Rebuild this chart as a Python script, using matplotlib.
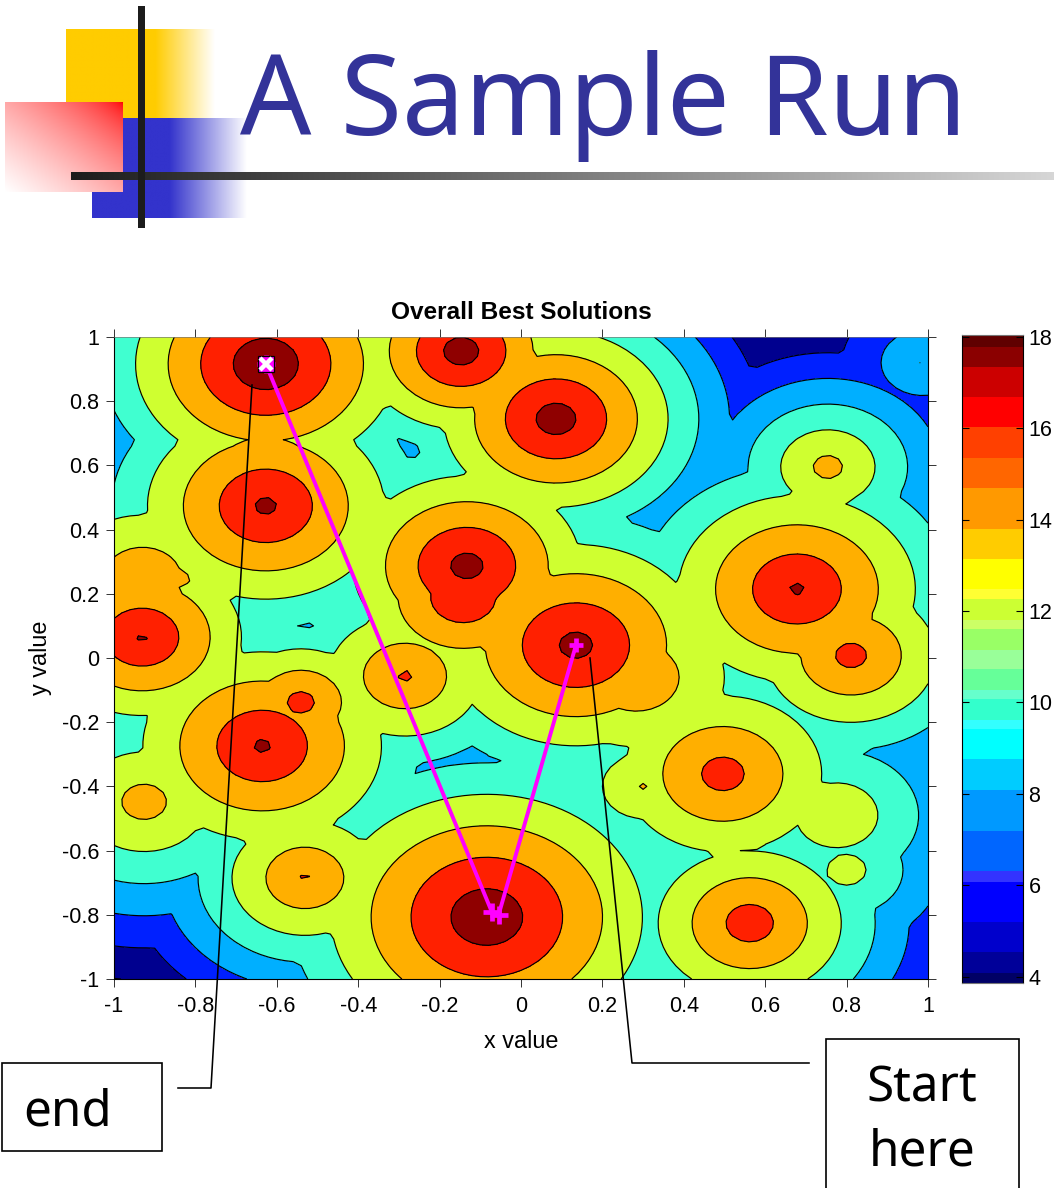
import numpy as np
import matplotlib
matplotlib.use("Agg")
import matplotlib.pyplot as plt
from matplotlib.colors import ListedColormap, BoundaryNorm
from matplotlib.patches import Rectangle

W, H = 1054, 1188

# --- data ---
# peaks of the surface: x, y, height, fall-off per unit distance
peak_x = [-0.627, -0.147, 0.086, -0.627, -0.133, -0.142, 0.135, 0.283, 0.678, 0.811, 0.754,
          -0.931, -0.930, -0.833, -0.285, -0.636, -0.541, -0.926, -0.531, 0.496, 0.300,
          -0.084, 0.562, 0.776, 0.800, 0.987]
peak_y = [0.916, 0.956, 0.745, 0.474, 0.287, 0.190, 0.040, -0.060, 0.215, 0.008, 0.595,
          0.065, 0.250, 0.246, -0.056, -0.274, -0.138, -0.448, -0.668, -0.361, -0.400,
          -0.807, -0.826, -0.490, -0.660, 0.920]
peak_y[18] = -0.685
peak_h = [20.0, 19.3, 19.3, 18.6, 19.0, 18.0, 18.9, 15.9, 18.4, 16.9, 14.9,
          18.35, 15.9, 14.5, 16.4, 18.45, 17.0, 15.1, 16.3, 17.1, 14.2,
          19.8, 17.4, 14.02, 13.05, 10.15]
peak_s = [25, 30, 26.5, 22.7, 25, 25, 22, 18, 22, 23.5, 25,
          26, 20, 25, 23.5, 22, 30, 20, 24, 21, 22,
          20.4, 24, 20, 22, 21]

contour_levels = [4, 6, 8, 10, 12, 14, 16, 18]
band_edges = [-100, 6, 8, 10, 12, 14, 16, 18, 100]
band_colors = ["#00008F", "#0020FF", "#00AFFF", "#40FFD0", "#CFFF30", "#FFAF00", "#FF2000", "#8F0000"]

path_x = [-0.627, -0.072, -0.055, 0.135]
path_y = [0.916, -0.790, -0.800, 0.040]

cbar_edges = [3.86, 4.08, 4.54, 5.20, 6.07, 6.31, 7.19, 8.09, 8.77, 9.42, 9.62, 10.08, 10.28, 10.74,
              11.15, 11.61, 11.81, 12.27, 12.49, 13.14, 13.80, 14.70, 15.35, 16.03, 16.69, 17.34, 17.78, 18.04]
cbar_colors = ["#000066", "#000099", "#0000CC", "#0000FF", "#3333FF", "#0066FF", "#0099FF", "#00CCFF",
               "#00FFFF", "#33FFFF", "#33FFCC", "#66FFCC", "#66FF99", "#99FF99", "#99FF66", "#CCFF66",
               "#CCFF33", "#FFFF33", "#FFFF00", "#FFCC00", "#FF9900", "#FF6600", "#FF4000", "#FF0000",
               "#CC0000", "#8B0000", "#600000"]
cbar_ticks = [4, 6, 8, 10, 12, 14, 16, 18]
axis_ticks = [-1, -0.8, -0.6, -0.4, -0.2, 0, 0.2, 0.4, 0.6, 0.8, 1]
axis_tick_labels = ["-1", "-0.8", "-0.6", "-0.4", "-0.2", "0", "0.2", "0.4", "0.6", "0.8", "1"]

plt.rcParams["font.family"] = ["Liberation Sans", "DejaVu Sans"]
fig = plt.figure(figsize=(W / 100, H / 100), dpi=100, facecolor="white")


def px_axes(l, t, r, b, **kw):
    return fig.add_axes([l / W, 1 - b / H, (r - l) / W, (b - t) / H], **kw)


# --- slide decoration ---
bg = px_axes(0, 0, W, H, zorder=0)
bg.set_xlim(0, W); bg.set_ylim(H, 0); bg.axis("off")


def hfade(color, l, t, r, b, solid):
    ramp = np.clip((np.linspace(0, 1, 256) - solid) / (1 - solid), 0, 1)
    c = np.array(matplotlib.colors.to_rgb(color))
    img = (c[None, :] * (1 - ramp[:, None]) + ramp[:, None])[None, :, :]
    bg.imshow(img, extent=(l, r, b, t), aspect="auto", interpolation="bilinear", zorder=1)


hfade("#FFCC00", 66, 29, 215, 118, 0.6)
hfade("#3333CC", 92, 118, 247, 218, 0.5)
xx, yy = np.meshgrid(np.linspace(1, 0, 120), np.linspace(0, 1, 90))
fade = np.clip((xx + yy) / 2, 0, 1) ** 0.6
red = np.dstack([np.ones_like(fade), fade, fade])
bg.imshow(red, extent=(5, 123, 192, 102), aspect="auto", zorder=2)
grey = np.linspace(0.11, 0.84, 512)[None, :]
bg.imshow(np.dstack([grey, grey, grey]), extent=(71, 1054, 180, 172), aspect="auto", zorder=3)
bg.add_patch(Rectangle((138, 6), 7, 222, fc="#1C1C1C", ec="none", zorder=4))
bg.set_xlim(0, W); bg.set_ylim(H, 0)
bg.text(240, 135, "A Sample Run", fontsize=80.5, color="#333399", family="Noto Sans", va="baseline", ha="left", zorder=5)

# --- contour map ---
ax = px_axes(114, 337, 928, 979, zorder=2)
grid = np.linspace(-1, 1, 101)
X, Y = np.meshgrid(grid, grid)
Z = np.full(X.shape, -100.0)
for px_, py_, h_, s_ in zip(peak_x, peak_y, peak_h, peak_s):
    Z = np.maximum(Z, h_ - s_ * np.hypot(X - px_, Y - py_))
ax.contourf(X, Y, Z, levels=band_edges, colors=band_colors)
ax.contour(X, Y, Z, levels=contour_levels, colors="black", linewidths=0.85)
ax.set_xlim(-1, 1); ax.set_ylim(-1, 1)
ax.set_xticks(axis_ticks, axis_tick_labels)
ax.set_yticks(axis_ticks, axis_tick_labels)
ax.tick_params(direction="out", length=5.5, width=0.7, labelsize=15.5, top=True, right=True, color="#333333")
ax.tick_params(axis="x", pad=7)
ax.tick_params(axis="y", pad=5)
ax.spines["top"].set_color("#777777")
ax.spines["top"].set_linewidth(0.5)
ax.set_xlabel("x value", fontsize=16.8, labelpad=9)
ax.set_ylabel("y value", fontsize=16.8, labelpad=7)
ax.set_title("Overall Best Solutions", fontsize=17.6, fontweight="bold", pad=13)

ax.plot(path_x[:3], path_y[:3], color="#FF00FF", lw=2.8, zorder=6, solid_capstyle="butt")
ax.plot(path_x[2:], path_y[2:], color="#FF00FF", lw=2.8, zorder=6, solid_capstyle="butt")
ax.plot(path_x[1:3], path_y[1:3], ls="none", marker="+", ms=13, mew=3.4, color="#FF00FF", zorder=7)
ax.plot(path_x[3:], path_y[3:], ls="none", marker="+", ms=10, mew=3.4, color="#FF00FF", zorder=7)
ax.plot(path_x[:1], path_y[:1], ls="none", marker="+", ms=13, mew=3.4, color="#FF00FF", zorder=7)
ax.plot(path_x[:1], path_y[:1], ls="none", marker="s", ms=11.5, mew=0.9, mfc="#FF00FF", mec="black", zorder=8)
ax.plot(path_x[:1], path_y[:1], ls="none", marker="x", ms=9, mew=3.2, color="white", zorder=9)

# --- colour bar ---
cax = px_axes(962, 335, 1023, 983, zorder=2)
cmap = ListedColormap(cbar_colors)
norm = BoundaryNorm(cbar_edges, cmap.N)
vals = np.array(cbar_edges)
cax.pcolormesh([0, 1], vals, (vals[:-1] + vals[1:])[:, None] / 2, cmap=cmap, norm=norm, rasterized=True)
cax.set_xlim(0, 1); cax.set_ylim(cbar_edges[0], cbar_edges[-1])
cax.set_xticks([])
cax.yaxis.tick_right()
cax.set_yticks(cbar_ticks)
cax.tick_params(axis="y", direction="in", length=5, width=0.8, labelsize=15.5, pad=4, left=True, right=True)
for side in ("top", "bottom"):
    cax.spines[side].set_color("#777777")

# --- callouts ---
top = px_axes(0, 0, W, H, zorder=5)
top.patch.set_alpha(0)
top.set_xlim(0, W); top.set_ylim(H, 0); top.axis("off")
top.plot([178, 211, 252], [1088, 1088, 385], color="black", lw=1.15)
top.plot([809, 632, 590], [1063, 1063, 658], color="black", lw=1.15)
top.add_patch(Rectangle((2, 1063), 160, 88, fc="white", ec="black", lw=1.2))
top.add_patch(Rectangle((826, 1039), 193, 160, fc="white", ec="black", lw=1.2, clip_on=True))
top.text(23, 1126, "end", fontsize=35.5, family="Noto Sans", va="baseline", color="black")
top.text(922, 1102, "Start", fontsize=35.5, family="Noto Sans", va="baseline", ha="center", color="black")
top.text(922, 1166, "here", fontsize=35.5, family="Noto Sans", va="baseline", ha="center", color="black")

fig.savefig("out.png", dpi=100)
